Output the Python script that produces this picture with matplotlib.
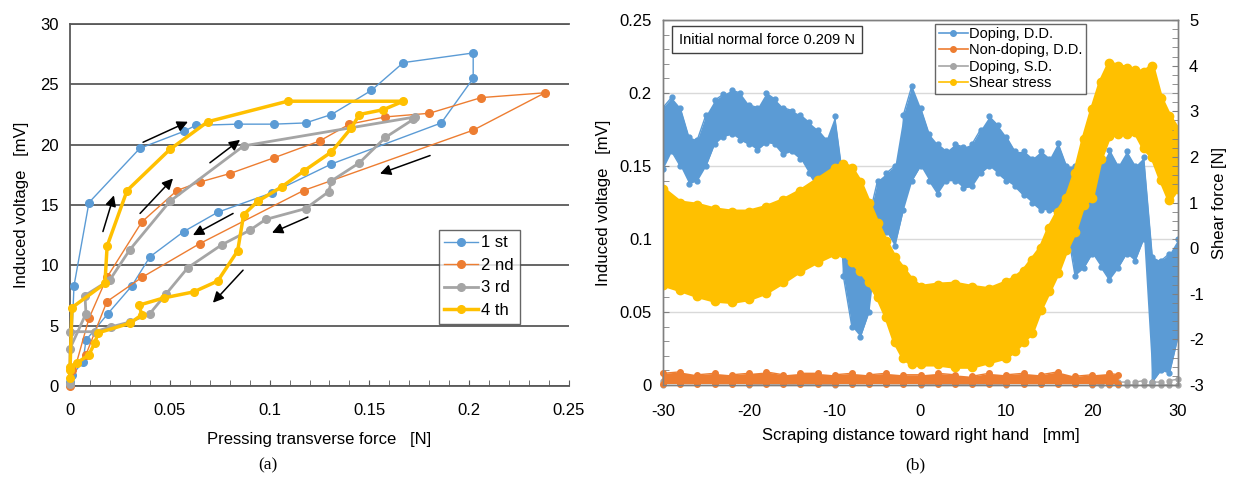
import matplotlib

matplotlib.use("Agg")
import matplotlib.pyplot as plt
import numpy as np
from matplotlib.lines import Line2D
from matplotlib.ticker import MultipleLocator

plt.rcParams["font.family"] = ["Liberation Sans", "DejaVu Sans"]
plt.rcParams["axes.unicode_minus"] = False

BLUE = "#5B9BD5"
ORANGE = "#ED7D31"
GRAY = "#A5A5A5"
YELLOW = "#FFC000"

# ---- (a) induced voltage vs pressing force, four loading cycles ----
first_x = [0.000, 0.002, 0.0095, 0.035, 0.057, 0.063, 0.084, 0.102, 0.118, 0.131, 0.151, 0.167,
           0.202, 0.202, 0.186, 0.131, 0.101, 0.074, 0.057, 0.040, 0.031, 0.019, 0.008, 0.0065, 0.001]
first_y = [0.3, 8.3, 15.2, 19.7, 21.1, 21.6, 21.7, 21.7, 21.8, 22.5, 24.5, 26.8,
           27.6, 25.5, 21.8, 18.4, 16.0, 14.4, 12.8, 10.7, 8.3, 6.0, 3.8, 2.0, 0.9]

second_x = [0.0, 0.0095, 0.0185, 0.036, 0.0536, 0.065, 0.080, 0.102, 0.125, 0.140, 0.158, 0.180,
            0.206, 0.238, 0.202, 0.117, 0.065, 0.036, 0.0185, 0.008, 0.001]
second_y = [0.0, 5.6, 9.0, 13.6, 16.2, 16.9, 17.6, 18.9, 20.3, 21.7, 22.3, 22.6,
            23.9, 24.3, 21.2, 16.2, 11.8, 9.0, 7.0, 2.6, 1.3]

third_x = [0.0, 0.0, 0.008, 0.0075, 0.020, 0.030, 0.050, 0.087, 0.173, 0.172, 0.158, 0.145,
           0.131, 0.1296, 0.118, 0.098, 0.090, 0.076, 0.059, 0.048, 0.040, 0.030, 0.0205,
           0.0125, 0.0]
third_y = [0.2, 3.1, 6.0, 7.5, 8.8, 11.3, 15.3, 19.9, 22.3, 22.1, 20.6, 18.5,
           17.0, 16.1, 14.7, 13.8, 12.9, 11.7, 9.8, 7.6, 6.0, 5.3, 4.9,
           4.5, 4.5]

fourth_x = [0.0, 0.0, 0.001, 0.0175, 0.0186, 0.0286, 0.050, 0.069, 0.109, 0.167, 0.157, 0.145,
            0.141, 0.131, 0.117, 0.106, 0.094, 0.087, 0.084, 0.074, 0.062, 0.047, 0.0346,
            0.036, 0.030, 0.014, 0.0125, 0.0095, 0.0035, 0.0]
fourth_y = [0.7, 1.3, 6.5, 8.5, 11.6, 16.2, 19.6, 21.9, 23.6, 23.6, 22.9, 22.5,
            21.4, 19.4, 17.8, 16.5, 15.3, 14.2, 11.2, 8.7, 7.8, 7.3, 6.7,
            5.9, 5.2, 4.4, 3.6, 2.6, 1.9, 1.6]

cycle_labels = ["1 st", "2 nd", "3 rd", "4 th"]

arrow_tails = [(0.0366, 20.2), (0.0701, 18.5), (0.0351, 14.3), (0.0165, 12.8),
               (0.0817, 14.3), (0.1192, 14.0), (0.0867, 9.6), (0.1804, 19.1)]
arrow_heads = [(0.0591, 21.9), (0.0852, 20.4), (0.0516, 17.2), (0.0220, 15.8),
               (0.0616, 12.5), (0.1012, 12.7), (0.0716, 6.9), (0.1553, 17.6)]

# ---- (b) scraping test: envelopes ----
blue_x = list(range(-30, 31))
blue_lo = [0.148, 0.160, 0.150, 0.138, 0.140, 0.150, 0.165, 0.170, 0.172, 0.168,
           0.165, 0.161, 0.166, 0.165, 0.158, 0.160, 0.155, 0.145, 0.136, 0.130,
           0.130, 0.075, 0.040, 0.033, 0.050, 0.100, 0.105, 0.095, 0.120, 0.140,
           0.150, 0.140, 0.131, 0.140, 0.140, 0.135, 0.136, 0.145, 0.150, 0.145,
           0.140, 0.136, 0.130, 0.125, 0.120, 0.120, 0.118, 0.110, 0.075, 0.080,
           0.090, 0.081, 0.072, 0.080, 0.090, 0.085, 0.100, 0.002, 0.010, 0.008,
           0.033]
blue_hi = [0.190, 0.197, 0.190, 0.170, 0.168, 0.185, 0.195, 0.199, 0.202, 0.200,
           0.192, 0.190, 0.200, 0.196, 0.190, 0.188, 0.185, 0.180, 0.175, 0.168,
           0.184, 0.140, 0.130, 0.120, 0.115, 0.140, 0.145, 0.150, 0.185, 0.205,
           0.190, 0.172, 0.165, 0.160, 0.165, 0.163, 0.165, 0.175, 0.184, 0.178,
           0.170, 0.160, 0.160, 0.155, 0.160, 0.155, 0.166, 0.150, 0.150, 0.140,
           0.140, 0.150, 0.161, 0.150, 0.160, 0.150, 0.156, 0.088, 0.085, 0.090,
           0.100]

orange_x = [-30, -28, -26, -24, -22, -20, -18, -16, -14, -12, -10, -8, -6, -4, -2,
            0, 2, 4, 6, 8, 10, 12, 14, 16, 18, 20, 22, 23]
orange_lo = [0.001] * len(orange_x)
orange_hi = [0.008, 0.009, 0.007, 0.008, 0.007, 0.008, 0.009, 0.007, 0.008, 0.008,
             0.007, 0.008, 0.007, 0.008, 0.007, 0.007, 0.008, 0.007, 0.006, 0.008,
             0.007, 0.008, 0.007, 0.009, 0.006, 0.007, 0.008, 0.007]

gray_x = [-30, -20, -10, 0, 10, 20, 21, 22, 23, 24, 25, 26, 27, 28, 29, 30]
gray_lo = [0.0] * len(gray_x)
gray_hi = [0.003, 0.003, 0.003, 0.003, 0.003, 0.003, 0.002, 0.003, 0.002, 0.002,
           0.002, 0.003, 0.002, 0.002, 0.003, 0.004]

shear_x = [-30, -28, -26, -24, -22, -20, -18, -16, -14, -12, -10, -9, -8, -7, -6, -5,
           -4, -3, -2, -1, 0, 2, 4, 6, 8, 10, 11, 12, 13, 14, 15, 16, 17, 18, 19, 20,
           21, 22, 23, 24, 25, 26, 27, 28, 29, 30]
shear_hi = [1.3, 1.0, 0.95, 0.85, 0.8, 0.8, 0.9, 1.05, 1.25, 1.5, 1.75, 1.85, 1.75, 1.45,
            1.0, 0.55, 0.15, -0.2, -0.45, -0.7, -0.85, -0.8, -0.78, -0.85, -0.9, -0.75,
            -0.65, -0.5, -0.25, 0.0, 0.45, 0.8, 1.1, 1.65, 2.4, 3.05, 3.65, 4.05, 4.0,
            3.95, 3.9, 3.85, 4.0, 3.3, 2.9, 2.6]
shear_lo = [-0.8, -0.92, -1.05, -1.15, -1.18, -1.12, -0.98, -0.75, -0.5, -0.3, -0.12,
            -0.1, -0.3, -0.5, -0.75, -1.07, -1.5, -2.05, -2.4, -2.55, -2.55, -2.55, -2.6,
            -2.6, -2.5, -2.4, -2.25, -2.05, -1.85, -1.35, -0.95, -0.55, -0.05, 0.35, 0.95,
            1.1, 1.95, 2.45, 2.5, 2.5, 2.55, 2.2, 2.0, 1.5, 1.05, 1.3]

trace_labels = ["Doping, D.D.", "Non-doping, D.D.", "Doping, S.D.", "Shear stress"]


def zigzag(x, lo, hi):
    xs = np.repeat(np.asarray(x, float), 2)
    ys = np.column_stack([lo, hi]).astype(float)
    ys[1::2] = ys[1::2, ::-1]
    return xs, ys.ravel()


fig = plt.figure(figsize=(12.33, 4.79), dpi=100)

# ---------------- panel (a) ----------------
ax = fig.add_axes([70 / 1233, 93 / 479, 499 / 1233, 362 / 479])
series = [(first_x, first_y, BLUE, 1.0), (second_x, second_y, ORANGE, 1.0),
          (third_x, third_y, GRAY, 2.0), (fourth_x, fourth_y, YELLOW, 2.5)]
for (xs, ys, color, lw), label in zip(series, cycle_labels):
    ax.plot(xs, ys, color=color, lw=lw, marker="o", ms=5.5, label=label, clip_on=False, zorder=3)

for tail, head in zip(arrow_tails, arrow_heads):
    ax.annotate("", xy=head, xytext=tail,
                arrowprops=dict(arrowstyle="-|>", color="black", lw=1.1, mutation_scale=16,
                                shrinkA=0, shrinkB=0), zorder=4)

ax.set_xlim(0, 0.25)
ax.set_ylim(0, 30)
ax.set_yticks(range(0, 31, 5))
ax.set_xticks(np.arange(0, 0.251, 0.05))
ax.set_xticklabels(["0", "0.05", "0.1", "0.15", "0.2", "0.25"])
ax.xaxis.set_minor_locator(MultipleLocator(0.01))
ax.tick_params(axis="x", which="both", direction="in", length=4, color="#595959",
               labelsize=12, pad=12)
ax.tick_params(axis="y", length=0, labelsize=12, pad=8)
ax.set_axisbelow(True)
ax.grid(axis="y", color="#595959", lw=1.3)
for side in ["left", "bottom", "top"]:
    ax.spines[side].set_color("#595959")
    ax.spines[side].set_linewidth(1.3)
ax.spines["right"].set_visible(False)
ax.set_xlabel("Pressing transverse force   [N]", fontsize=12, labelpad=10)
ax.set_ylabel("Induced voltage   [mV]", fontsize=12, labelpad=8)
leg = ax.legend(loc="upper left", bbox_to_anchor=(0.722, 0.455), fontsize=12, frameon=True,
                fancybox=False, edgecolor="#404040", handlelength=2.0, borderpad=0.35,
                labelspacing=0.45, handletextpad=0.2)
leg.get_frame().set_linewidth(1.0)

# ---------------- panel (b) ----------------
bx = fig.add_axes([663 / 1233, 94 / 479, 515 / 1233, 365 / 479])
bx2 = bx.twinx()

bx.fill_between(blue_x, blue_lo, blue_hi, color=BLUE, lw=0, zorder=2)
zx, zy = zigzag(blue_x, blue_lo, blue_hi)
bx.plot(zx, zy, color=BLUE, lw=1.0, marker="o", ms=3.5, zorder=2)

bx.fill_between(orange_x, orange_lo, orange_hi, color=ORANGE, lw=0, zorder=3, clip_on=False)
zx, zy = zigzag(orange_x, orange_lo, orange_hi)
bx.plot(zx, zy, color=ORANGE, lw=1.0, marker="o", ms=4, zorder=3, clip_on=False)

zx, zy = zigzag(gray_x, gray_lo, gray_hi)
bx.plot(zx, zy, color=GRAY, lw=1.0, marker="o", ms=3.5, zorder=2.5, clip_on=False)

bx2.fill_between(shear_x, shear_lo, shear_hi, color=YELLOW, lw=0)
bx2.plot(shear_x, shear_hi, color=YELLOW, lw=3, marker="o", ms=6)
bx2.plot(shear_x, shear_lo, color=YELLOW, lw=3, marker="o", ms=6)

bx.set_xlim(-30, 30)
bx.set_ylim(0, 0.25)
bx.set_xticks(range(-30, 31, 10))
bx.set_yticks(np.arange(0, 0.251, 0.05))
bx.set_yticklabels(["0", "0.05", "0.1", "0.15", "0.2", "0.25"])
bx.yaxis.set_minor_locator(MultipleLocator(0.01))
bx.tick_params(axis="y", which="both", direction="in", length=4, color="#808080",
               labelsize=12, pad=8)
bx.tick_params(axis="x", length=0, labelsize=12, pad=14)
bx.set_axisbelow(True)
bx.grid(axis="y", color="#d9d9d9", lw=1.0)

bx2.set_ylim(-3, 5)
bx2.set_yticks(range(-3, 6))
bx2.yaxis.set_minor_locator(MultipleLocator(0.2))
bx2.tick_params(axis="y", which="both", direction="in", length=4, color="#808080",
                labelsize=12, pad=8)
for a in (bx, bx2):
    for side in a.spines.values():
        side.set_color("#808080")
        side.set_linewidth(1.0)

bx.set_xlabel("Scraping distance toward right hand   [mm]", fontsize=12, labelpad=6)
bx.set_ylabel("Induced voltage   [mV]", fontsize=12, labelpad=6)
bx2.set_ylabel("Shear force [N]", fontsize=12, labelpad=6)

bx2.text(0.031, 0.965, "Initial normal force 0.209 N", transform=bx2.transAxes, fontsize=10.5,
         va="top", ha="left",
         bbox=dict(boxstyle="square,pad=0.45", fc="white", ec="#404040", lw=1.0))

handles = [Line2D([], [], color=c, lw=1.2, marker="o", ms=4) for c in (BLUE, ORANGE, GRAY, YELLOW)]
leg2 = bx2.legend(handles, trace_labels, loc="upper left", bbox_to_anchor=(0.528, 0.99),
                  fontsize=10.5, frameon=True, fancybox=False, edgecolor="#404040",
                  handlelength=2.0, borderpad=0.25, labelspacing=0.15, handletextpad=0.1,
                  borderaxespad=0)
leg2.get_frame().set_linewidth(1.0)

fig.text(268 / 1233, 1 - 465 / 479, "(a)", family=["Liberation Serif", "DejaVu Serif"],
         fontsize=12.5, ha="center", va="center")
fig.text(915 / 1233, 1 - 465 / 479, "(b)", family=["Liberation Serif", "DejaVu Serif"],
         fontsize=12.5, ha="center", va="center")

fig.savefig("out.png", dpi=100)
